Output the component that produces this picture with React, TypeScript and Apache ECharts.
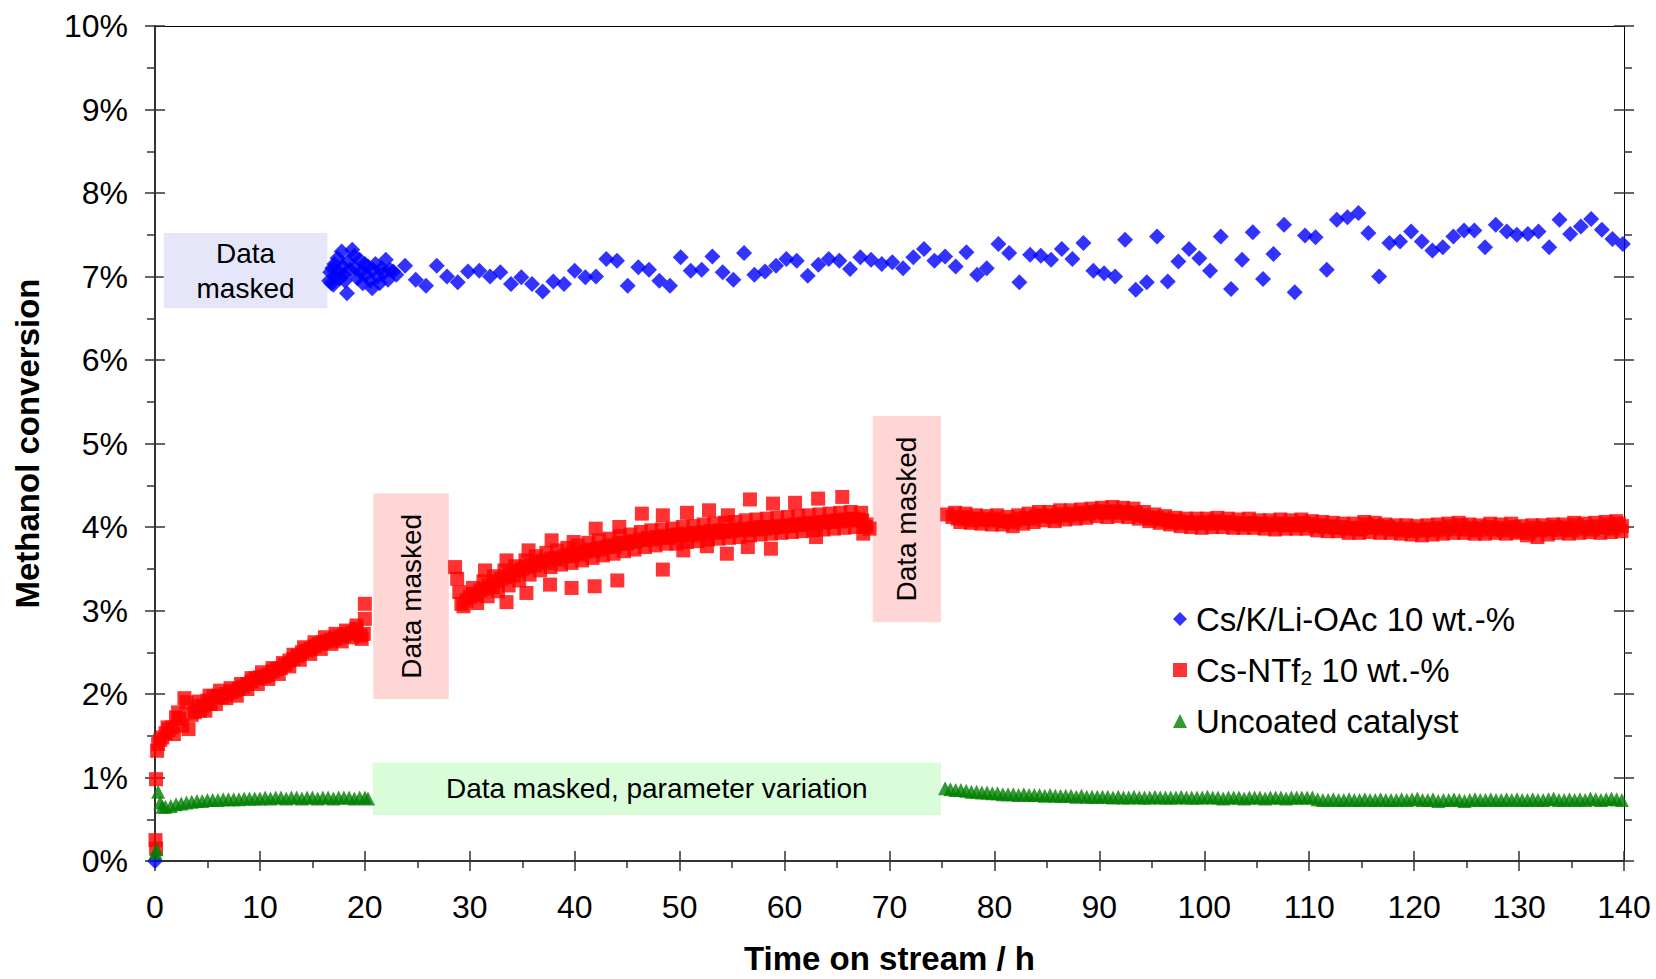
import React, { useEffect, useRef } from "react";
import * as echarts from "echarts";

const FONT = '"Liberation Sans", Arial, Helvetica, sans-serif';

const SERIES_NAMES = ["Cs/K/Li-OAc 10 wt.-%", "Cs-NTf2 10 wt.-%", "Uncoated catalyst"];
const X_TITLE = "Time on stream / h";
const Y_TITLE = "Methanol conversion";

// Cs/K/Li-OAc 10 wt.-% : [time h, conversion %]
const BLUE: [number, number][] = [
  [0, 0],
  [16.6, 6.95], [16.7, 7.05], [16.8, 6.92], [16.9, 7.1], [17.0, 6.9], [17.1, 7.15], [17.2, 7.0], [17.4, 7.22],
  [17.5, 7.05], [17.6, 6.98], [17.8, 7.3], [17.9, 7.12], [18.0, 7.02], [18.1, 6.95], [18.3, 6.8], [18.4, 7.18],
  [18.6, 7.08], [18.8, 7.32], [19.0, 7.25], [19.1, 7.1], [19.3, 6.98], [19.5, 7.2], [19.6, 7.05], [19.8, 6.92],
  [20.0, 7.15], [20.1, 7.02], [20.3, 7.12], [20.5, 6.95], [20.7, 6.86], [20.8, 7.08], [21.0, 7.15], [21.2, 7.0],
  [21.4, 6.92], [21.6, 7.1], [21.8, 7.04], [22.0, 7.2], [22.2, 6.96], [22.4, 7.08], [22.7, 7.06], [23.0, 7.02],
  [23.83, 7.13], [24.85, 6.96], [25.83, 6.89], [26.85, 7.13], [27.83, 7.0], [28.85, 6.93], [29.83, 7.06],
  [30.91, 7.07], [31.93, 7.0], [32.91, 7.05], [33.93, 6.91], [34.91, 6.99], [35.93, 6.91], [36.95, 6.82],
  [37.96, 6.94], [38.98, 6.91], [40.0, 7.07], [41.01, 6.99], [42.03, 7.0], [43.01, 7.21], [44.03, 7.19],
  [45.05, 6.89], [46.06, 7.11], [47.08, 7.08], [48.07, 6.95], [49.08, 6.89], [50.1, 7.23], [51.06, 7.07],
  [52.1, 7.08], [53.12, 7.24], [54.1, 7.05], [55.12, 6.96], [56.14, 7.28], [57.12, 7.02], [58.14, 7.06],
  [59.19, 7.13], [60.17, 7.21], [61.16, 7.19], [62.21, 7.01], [63.22, 7.14], [64.21, 7.21], [65.22, 7.19],
  [66.24, 7.09], [67.22, 7.23], [68.24, 7.2], [69.26, 7.15], [70.27, 7.17], [71.29, 7.1], [72.27, 7.23],
  [73.29, 7.33], [74.28, 7.19], [75.3, 7.24], [76.31, 7.12], [77.33, 7.29], [78.35, 7.02], [79.27, 7.1],
  [80.38, 7.39], [81.4, 7.28], [82.38, 6.93], [83.4, 7.26], [84.42, 7.25], [85.4, 7.2], [86.42, 7.33],
  [87.43, 7.21], [88.48, 7.4], [89.43, 7.07], [90.45, 7.04], [91.5, 7.0], [92.45, 7.44], [93.47, 6.84],
  [94.52, 6.93], [95.5, 7.48], [96.52, 6.94], [97.53, 7.18], [98.55, 7.33], [99.53, 7.22], [100.55, 7.07],
  [101.57, 7.48], [102.55, 6.85], [103.6, 7.2], [104.62, 7.53], [105.6, 6.97], [106.59, 7.27], [107.6, 7.62],
  [108.62, 6.81], [109.6, 7.49], [110.6, 7.47], [111.67, 7.08], [112.63, 7.68], [113.64, 7.71], [114.69, 7.76],
  [115.64, 7.52], [116.66, 7.0], [117.64, 7.4], [118.66, 7.42], [119.71, 7.54], [120.73, 7.42], [121.74, 7.31],
  [122.73, 7.35], [123.74, 7.48], [124.76, 7.55], [125.74, 7.55], [126.76, 7.35], [127.78, 7.62], [128.83, 7.54],
  [129.79, 7.5], [130.84, 7.51], [131.85, 7.54], [132.87, 7.35], [133.85, 7.68], [134.87, 7.51], [135.89, 7.6],
  [136.87, 7.69], [137.89, 7.56], [138.9, 7.45], [139.89, 7.39],
];

// Cs-NTf2 10 wt.-% : first period
const RED_EARLY: [number, number][] = [
  [0.05, 0.25], [0.1, 0.15], [0.1, 0.98], [0.2, 1.32], [0.3, 1.4], [0.5, 1.45], [0.7, 1.48], [1.0, 1.53],
  [1.3, 1.57], [1.6, 1.6], [2.0, 1.72], [2.3, 1.7], [2.6, 1.62], [2.8, 1.95], [3.0, 1.9], [3.2, 1.58],
  [3.5, 1.75], [3.8, 1.78], [4.0, 1.85], [4.3, 1.8], [4.6, 1.86], [5.0, 1.92], [5.3, 1.88], [5.6, 1.97],
  [6.0, 1.98], [6.4, 1.96], [6.8, 2.0], [7.2, 2.02], [7.6, 2.04], [8.0, 2.06], [8.4, 2.09], [8.8, 2.12],
  [9.2, 2.15], [9.6, 2.19], [10.0, 2.2], [10.4, 2.21], [10.8, 2.23], [11.2, 2.27], [11.6, 2.3], [12.0, 2.31],
  [12.4, 2.35], [12.8, 2.4], [13.2, 2.42], [13.6, 2.46], [14.0, 2.5], [14.4, 2.52], [14.8, 2.54], [15.2, 2.57],
  [15.6, 2.6], [16.0, 2.62], [16.4, 2.63], [16.8, 2.65], [17.2, 2.66], [17.6, 2.69], [18.0, 2.7], [18.4, 2.72],
  [18.8, 2.74], [19.2, 2.78], [19.6, 2.7], [19.9, 2.72], [20.0, 2.9], [20.0, 3.08],
  [1.2, 1.6], [1.8, 1.52], [2.2, 1.78], [4.2, 1.91], [4.8, 1.8], [5.2, 1.98], [5.8, 1.88], [6.2, 2.04],
  [6.8, 1.95], [7.2, 2.07], [7.8, 1.98], [8.2, 2.12], [8.8, 2.06], [9.2, 2.19], [9.8, 2.12], [10.2, 2.26],
  [10.8, 2.18], [11.2, 2.31], [11.8, 2.24], [12.2, 2.37], [12.8, 2.33], [13.2, 2.47], [13.8, 2.41], [14.2, 2.56],
  [14.8, 2.48], [15.2, 2.62], [15.8, 2.54], [16.2, 2.68], [16.8, 2.6], [17.2, 2.72], [17.8, 2.63], [18.2, 2.76],
  [18.8, 2.68], [19.2, 2.82], [19.7, 2.66],
];

// Cs-NTf2 10 wt.-% : second period
const RED_MID: [number, number][] = [
  [28.6, 3.52], [28.8, 3.38], [29.0, 3.22], [29.2, 3.08], [29.4, 3.05], [29.7, 3.12], [30.0, 3.16], [30.3, 3.2],
  [30.6, 3.18], [31.0, 3.24], [31.4, 3.26], [31.8, 3.3], [32.2, 3.28], [32.6, 3.35], [33.0, 3.38], [33.4, 3.4],
  [33.8, 3.44], [34.2, 3.42], [34.6, 3.48], [35.0, 3.5], [35.4, 3.52], [35.8, 3.55], [36.2, 3.54], [36.6, 3.58],
  [37.0, 3.6], [37.4, 3.57], [37.8, 3.62], [38.2, 3.63], [38.6, 3.61], [39.0, 3.65], [39.4, 3.67], [39.8, 3.65],
  [40.2, 3.69], [40.6, 3.67], [41.0, 3.71], [41.4, 3.73], [41.8, 3.71], [42.2, 3.75], [42.6, 3.73], [43.0, 3.76],
  [43.4, 3.78], [43.8, 3.76], [44.2, 3.8], [44.6, 3.81], [45.0, 3.8], [45.4, 3.83], [45.8, 3.82], [46.2, 3.85],
  [46.6, 3.84], [47.0, 3.87], [47.4, 3.85], [47.8, 3.88], [48.2, 3.87], [48.6, 3.89], [49.0, 3.87], [49.4, 3.9],
  [49.8, 3.91], [50.2, 3.89], [50.6, 3.92], [51.0, 3.9], [51.4, 3.93], [51.8, 3.91], [52.2, 3.94], [52.6, 3.92],
  [53.0, 3.95], [53.4, 3.93], [53.8, 3.96], [54.2, 3.94], [54.6, 3.96], [55.0, 3.95], [55.4, 3.97], [55.8, 3.96],
  [56.2, 3.98], [56.6, 3.96], [57.0, 3.99], [57.4, 3.97], [57.8, 4.0], [58.2, 3.98], [58.6, 4.0], [59.0, 3.99],
  [59.4, 4.01], [59.8, 4.0], [60.2, 4.02], [60.6, 4.01], [61.0, 4.03], [61.4, 4.02], [61.8, 4.04], [62.2, 4.03],
  [62.6, 4.05], [63.0, 4.04], [63.4, 4.06], [63.8, 4.05], [64.2, 4.07], [64.6, 4.06], [65.0, 4.08], [65.4, 4.07],
  [65.8, 4.09], [66.2, 4.08], [66.6, 4.1], [67.0, 4.09], [67.4, 4.08], [67.8, 4.03], [68.1, 3.98],
  [30.3, 3.27], [30.7, 3.09], [31.3, 3.35], [31.7, 3.17], [32.3, 3.41], [32.7, 3.23], [33.3, 3.48], [33.7, 3.3],
  [34.3, 3.53], [34.7, 3.36], [35.3, 3.6], [35.7, 3.43], [36.3, 3.65], [36.7, 3.48], [37.3, 3.69], [37.7, 3.52],
  [38.3, 3.72], [38.7, 3.55], [39.3, 3.75], [39.7, 3.57], [40.3, 3.78], [40.7, 3.6], [41.3, 3.81], [41.7, 3.63],
  [42.3, 3.84], [42.7, 3.66], [43.3, 3.86], [43.7, 3.68], [44.3, 3.89], [44.7, 3.71], [45.3, 3.91], [45.7, 3.73],
  [46.3, 3.94], [46.7, 3.76], [47.3, 3.96], [47.7, 3.78], [48.3, 3.97], [48.7, 3.8], [49.3, 3.98], [49.7, 3.8],
  [50.3, 4.0], [50.7, 3.82], [51.3, 4.01], [51.7, 3.83], [52.3, 4.03], [52.7, 3.85], [53.3, 4.04], [53.7, 3.86],
  [54.3, 4.05], [54.7, 3.87], [55.3, 4.06], [55.7, 3.88], [56.3, 4.08], [56.7, 3.9], [57.3, 4.09], [57.7, 3.91],
  [58.3, 4.1], [58.7, 3.92], [59.3, 4.11], [59.7, 3.93], [60.3, 4.12], [60.7, 3.94], [61.3, 4.13], [61.7, 3.95],
  [62.3, 4.14], [62.7, 3.96], [63.3, 4.15], [63.7, 3.97], [64.3, 4.16], [64.7, 3.98], [65.3, 4.17], [65.7, 3.99],
  [66.3, 4.18], [66.7, 4.0], [67.3, 4.17], [67.7, 4.0],
  [31.45, 3.48], [33.5, 3.6], [33.5, 3.1], [35.6, 3.72], [35.4, 3.21], [37.8, 3.84], [37.65, 3.31], [39.9, 3.82],
  [39.7, 3.27], [42.0, 3.98], [41.9, 3.29], [44.25, 4.0], [44.06, 3.36], [46.4, 4.16], [48.4, 4.14], [48.4, 3.49],
  [50.7, 4.17], [50.35, 3.72], [52.8, 4.2], [52.6, 3.77], [54.6, 4.14], [54.5, 3.68], [56.7, 4.33], [56.5, 3.76],
  [58.9, 4.28], [58.7, 3.74], [61.0, 4.29], [63.2, 4.34], [63.0, 3.88], [65.5, 4.36], [67.5, 3.92],
];

// Cs-NTf2 10 wt.-% : third period
const RED_LATE: [number, number][] = [
  [75.5, 4.15], [76, 4.12], [76.5, 4.1], [77, 4.12], [77.5, 4.1], [78, 4.08], [78.5, 4.1], [79, 4.09],
  [79.5, 4.08], [80, 4.1], [80.5, 4.08], [81, 4.07], [81.5, 4.06], [82, 4.08], [82.5, 4.1], [83, 4.11],
  [83.5, 4.1], [84, 4.13], [84.5, 4.14], [85, 4.13], [85.5, 4.12], [86, 4.14], [86.5, 4.15], [87, 4.14],
  [87.5, 4.16], [88, 4.15], [88.5, 4.17], [89, 4.16], [89.5, 4.18], [90, 4.19], [90.5, 4.17], [91, 4.18],
  [91.5, 4.19], [92, 4.17], [92.5, 4.18], [93, 4.16], [93.5, 4.17], [94, 4.14], [94.5, 4.12], [95, 4.1],
  [95.5, 4.11], [96, 4.09], [96.5, 4.08], [97, 4.06], [97.5, 4.07], [98, 4.05], [98.5, 4.06], [99, 4.04],
  [99.5, 4.05], [100, 4.06], [100.5, 4.04], [101, 4.07], [101.5, 4.05], [102, 4.06], [102.5, 4.04], [103, 4.05],
  [103.5, 4.03], [104, 4.04], [104.5, 4.05], [105, 4.03], [105.5, 4.04], [106, 4.02], [106.5, 4.03], [107, 4.04],
  [107.5, 4.02], [108, 4.03], [108.5, 4.04], [109, 4.02], [109.5, 4.05], [110, 4.03], [110.5, 4.01], [111, 4.02],
  [111.5, 4.0], [112, 4.01], [112.5, 3.99], [113, 4.0], [113.5, 3.98], [114, 3.99], [114.5, 3.97], [115, 3.98],
  [115.5, 4.03], [116, 3.99], [116.5, 4.01], [117, 3.98], [117.5, 4.0], [118, 3.97], [118.5, 3.98], [119, 3.96],
  [119.5, 3.98], [120, 3.95], [120.5, 3.97], [121, 3.96], [121.5, 3.98], [122, 3.96], [122.5, 3.99], [123, 3.97],
  [123.5, 4.01], [124, 3.98], [124.5, 4.02], [125, 3.97], [125.5, 3.99], [126, 3.96], [126.5, 3.98], [127, 4.0],
  [127.5, 3.97], [128, 3.99], [128.5, 3.96], [129, 3.98], [129.5, 4.0], [130, 3.95], [130.5, 3.97], [131, 3.93],
  [131.5, 3.99], [132, 3.96], [132.5, 3.98], [133, 3.97], [133.5, 4.0], [134, 3.97], [134.5, 3.99], [135, 3.96],
  [135.5, 4.02], [136, 3.98], [136.5, 4.0], [137, 3.97], [137.5, 4.01], [138, 3.99], [138.5, 4.03], [139, 3.98],
  [139.5, 4.04], [139.8, 4.01],
  [76.25, 4.17], [76.75, 4.06], [77.25, 4.16], [77.75, 4.05], [78.25, 4.14], [78.75, 4.04], [79.25, 4.13], [79.75, 4.03],
  [80.25, 4.14], [80.75, 4.03], [81.25, 4.12], [81.75, 4.01], [82.25, 4.14], [82.75, 4.04], [83.25, 4.16], [83.75, 4.06],
  [84.25, 4.18], [84.75, 4.08], [85.25, 4.18], [85.75, 4.07], [86.25, 4.2], [86.75, 4.09], [87.25, 4.2], [87.75, 4.1],
  [88.25, 4.21], [88.75, 4.11], [89.25, 4.22], [89.75, 4.13], [90.25, 4.23], [90.75, 4.12], [91.25, 4.24], [91.75, 4.13],
  [92.25, 4.23], [92.75, 4.12], [93.25, 4.22], [93.75, 4.1], [94.25, 4.18], [94.75, 4.07], [95.25, 4.15], [95.75, 4.05],
  [96.25, 4.13], [96.75, 4.03], [97.25, 4.11], [97.75, 4.01], [98.25, 4.1], [98.75, 4.0], [99.25, 4.1], [99.75, 3.99],
  [100.25, 4.1], [100.75, 4.0], [101.25, 4.11], [101.75, 4.0], [102.25, 4.1], [102.75, 3.99], [103.25, 4.09], [103.75, 3.99],
  [104.25, 4.1], [104.75, 3.99], [105.25, 4.08], [105.75, 3.98], [106.25, 4.08], [106.75, 3.97], [107.25, 4.09], [107.75, 3.98],
  [108.25, 4.08], [108.75, 3.98], [109.25, 4.09], [109.75, 3.98], [110.25, 4.07], [110.75, 3.96], [111.25, 4.06], [111.75, 3.95],
  [112.25, 4.05], [112.75, 3.95], [113.25, 4.04], [113.75, 3.93], [114.25, 4.04], [114.75, 3.93], [115.25, 4.06], [115.75, 3.94],
  [116.25, 4.05], [116.75, 3.93], [117.25, 4.03], [117.75, 3.93], [118.25, 4.02], [118.75, 3.92], [119.25, 4.02], [119.75, 3.91],
  [120.25, 4.01], [120.75, 3.9], [121.25, 4.02], [121.75, 3.91], [122.25, 4.03], [122.75, 3.92], [123.25, 4.04], [123.75, 3.93],
  [124.25, 4.05], [124.75, 3.93], [125.25, 4.03], [125.75, 3.92], [126.25, 4.02], [126.75, 3.92], [127.25, 4.04], [127.75, 3.93],
  [128.25, 4.03], [128.75, 3.92], [129.25, 4.04], [129.75, 3.93], [130.25, 4.01], [130.75, 3.9], [131.25, 4.02], [131.75, 3.88],
  [132.25, 4.02], [132.75, 3.91], [133.25, 4.03], [133.75, 3.93], [134.25, 4.03], [134.75, 3.92], [135.25, 4.05], [135.75, 3.93],
  [136.25, 4.04], [136.75, 3.94], [137.25, 4.05], [137.75, 3.93], [138.25, 4.06], [138.75, 3.94], [139.25, 4.07], [139.75, 3.95],
];

// Uncoated catalyst
const GREEN_EARLY: [number, number][] = [
  [0.05, 0.1], [0.15, 0.14], [0.3, 0.83], [0.5, 0.7], [0.7, 0.65], [1.0, 0.65], [1.5, 0.66], [2.0, 0.68],
  [2.5, 0.69], [3.0, 0.7], [3.5, 0.71], [4.0, 0.72], [4.5, 0.72], [5.0, 0.73], [5.5, 0.73], [6.0, 0.73],
  [6.5, 0.74], [7.0, 0.74], [7.5, 0.74], [8.0, 0.74], [8.5, 0.75], [9.0, 0.75], [9.5, 0.75], [10.0, 0.75],
  [10.5, 0.76], [11.0, 0.75], [11.5, 0.76], [12.0, 0.76], [12.5, 0.75], [13.0, 0.76], [13.5, 0.76], [14.0, 0.75],
  [14.5, 0.76], [15.0, 0.76], [15.5, 0.75], [16.0, 0.76], [16.5, 0.76], [17.0, 0.75], [17.5, 0.76], [18.0, 0.76],
  [18.5, 0.76], [19.0, 0.75], [19.5, 0.76], [20.0, 0.76], [20.3, 0.75],
];

const GREEN_LATE: [number, number][] = [
  [75.3, 0.87], [75.8, 0.86], [76.3, 0.85], [76.8, 0.85], [77.3, 0.84], [77.8, 0.83], [78.3, 0.83], [78.8, 0.82],
  [79.3, 0.82], [79.8, 0.81], [80.3, 0.81], [80.8, 0.8], [81.3, 0.8], [81.8, 0.8], [82.3, 0.79], [82.8, 0.8],
  [83.3, 0.79], [83.8, 0.79], [84.3, 0.79], [84.8, 0.78], [85.3, 0.79], [85.8, 0.78], [86.3, 0.78], [86.8, 0.78],
  [87.3, 0.78], [87.8, 0.77], [88.3, 0.78], [88.8, 0.77], [89.3, 0.77], [89.8, 0.77], [90.3, 0.77], [90.8, 0.77],
  [91.3, 0.76], [91.8, 0.77], [92.3, 0.76], [92.8, 0.76], [93.3, 0.77], [93.8, 0.76], [94.3, 0.76], [94.8, 0.76],
  [95.3, 0.77], [95.8, 0.76], [96.3, 0.76], [96.8, 0.76], [97.3, 0.76], [97.8, 0.77], [98.3, 0.76], [98.8, 0.76],
  [99.3, 0.76], [99.8, 0.76], [100.3, 0.77], [100.8, 0.76], [101.3, 0.76], [101.8, 0.75], [102.3, 0.76], [102.8, 0.76],
  [103.3, 0.76], [103.8, 0.75], [104.3, 0.76], [104.8, 0.76], [105.3, 0.76], [105.8, 0.75], [106.3, 0.76], [106.8, 0.76],
  [107.3, 0.76], [107.8, 0.75], [108.3, 0.76], [108.8, 0.76], [109.3, 0.76], [109.8, 0.76], [110.3, 0.76], [110.8, 0.74],
  [111.3, 0.73], [111.8, 0.73], [112.3, 0.74], [112.8, 0.73], [113.3, 0.73], [113.8, 0.74], [114.3, 0.73], [114.8, 0.73],
  [115.3, 0.74], [115.8, 0.73], [116.3, 0.73], [116.8, 0.74], [117.3, 0.73], [117.8, 0.73], [118.3, 0.73], [118.8, 0.74],
  [119.3, 0.73], [119.8, 0.74], [120.3, 0.75], [120.8, 0.73], [121.3, 0.73], [121.8, 0.74], [122.3, 0.72], [122.8, 0.73],
  [123.3, 0.73], [123.8, 0.74], [124.3, 0.73], [124.8, 0.72], [125.3, 0.73], [125.8, 0.74], [126.3, 0.73], [126.8, 0.73],
  [127.3, 0.74], [127.8, 0.73], [128.3, 0.73], [128.8, 0.74], [129.3, 0.73], [129.8, 0.74], [130.3, 0.73], [130.8, 0.73],
  [131.3, 0.74], [131.8, 0.73], [132.3, 0.73], [132.8, 0.74], [133.3, 0.75], [133.8, 0.73], [134.3, 0.73], [134.8, 0.74],
  [135.3, 0.73], [135.8, 0.74], [136.3, 0.73], [136.8, 0.75], [137.3, 0.74], [137.8, 0.73], [138.3, 0.74], [138.8, 0.75],
  [139.3, 0.74], [139.8, 0.73],
];

// Masked ranges: label, [t start, t end], [conv top, conv bottom]
const MASK_LABELS = ["Data\nmasked", "Data masked", "Data masked", "Data masked, parameter variation"];
const MASK_T: [number, number][] = [[0.83, 16.43], [20.8, 28.0], [68.4, 74.9], [20.75, 74.9]];
const MASK_Y: [number, number][] = [[7.52, 6.62], [4.4, 1.94], [5.33, 2.86], [1.18, 0.55]];
const MASK_COLORS = ["#E6E6FA", "#FFD6D6", "#FFD6D6", "#D9FCD9"];
const MASK_ROTATE = [0, 90, 90, 0];

const X_MIN = 0, X_MAX = 140, X_STEP = 10;
const Y_MIN = 0, Y_MAX = 10, Y_STEP = 1;

export default function App() {
  const ref = useRef<HTMLDivElement>(null);

  useEffect(() => {
    if (!ref.current) return;
    const chart = echarts.init(ref.current, null, { renderer: "svg" });

    const tickLine = { color: "#333", width: 1.5 };
    const xBase = { type: "value", min: X_MIN, max: X_MAX, interval: X_STEP, splitLine: { show: false } };
    const yBase = { type: "value", min: Y_MIN, max: Y_MAX, interval: Y_STEP, splitLine: { show: false } };
    const titleStyle = { fontFamily: FONT, fontSize: 33, fontWeight: "bold", color: "#000" };

    const markData = MASK_LABELS.map((label, i) => [
      {
        name: label,
        xAxis: MASK_T[i][0],
        yAxis: MASK_Y[i][0],
        itemStyle: { color: MASK_COLORS[i] },
        label: {
          show: true,
          position: "inside",
          rotate: MASK_ROTATE[i],
          color: "#000",
          fontFamily: FONT,
          fontSize: 28,
          lineHeight: 35,
          align: "center",
          verticalAlign: "middle",
          formatter: "{b}",
        },
      },
      { xAxis: MASK_T[i][1], yAxis: MASK_Y[i][1] },
    ]);

    const option: any = {
      animation: false,
      backgroundColor: "#fff",
      grid: { left: 155, right: 32, top: 26, bottom: 118, containLabel: false, outerBoundsMode: "none" },
      xAxis: [
        {
          ...xBase,
          position: "bottom",
          axisLine: { show: true, onZero: false, lineStyle: { color: "#333", width: 2 } },
          axisTick: { show: true, inside: false, length: 10, lineStyle: tickLine },
          minorTick: { show: true, splitNumber: 2, length: 7, lineStyle: tickLine },
          axisLabel: { color: "#000", fontFamily: FONT, fontSize: 32, margin: 30 },
          name: X_TITLE,
          nameLocation: "middle",
          nameGap: 81,
          nameTextStyle: { ...titleStyle, lineHeight: 33 },
        },
        {
          ...xBase,
          position: "bottom",
          axisLine: { show: false, onZero: false },
          axisTick: { show: true, inside: true, length: 10, lineStyle: tickLine },
          axisLabel: { show: false },
        },
        {
          ...xBase,
          position: "top",
          axisLine: { show: true, onZero: false, lineStyle: { color: "#000", width: 1 } },
          axisTick: { show: false },
          axisLabel: { show: false },
        },
      ],
      yAxis: [
        {
          ...yBase,
          position: "left",
          axisLine: { show: true, onZero: false, lineStyle: { color: "#333", width: 2 } },
          axisTick: { show: true, inside: false, length: 10, lineStyle: tickLine },
          minorTick: { show: true, splitNumber: 2, length: 8, lineStyle: tickLine },
          axisLabel: { color: "#000", fontFamily: FONT, fontSize: 32, margin: 27, formatter: (v: number) => `${v}%` },
          name: Y_TITLE,
          nameLocation: "middle",
          nameGap: 111,
          nameTextStyle: titleStyle,
        },
        {
          ...yBase,
          position: "left",
          axisLine: { show: false, onZero: false },
          axisTick: { show: true, inside: true, length: 10, lineStyle: tickLine },
          axisLabel: { show: false },
        },
        {
          ...yBase,
          position: "right",
          axisLine: { show: true, onZero: false, lineStyle: { color: "#000", width: 1 } },
          axisTick: { show: true, inside: false, length: 10, lineStyle: tickLine },
          minorTick: { show: true, splitNumber: 2, length: 8, lineStyle: tickLine },
          axisLabel: { show: false },
        },
        {
          ...yBase,
          position: "right",
          axisLine: { show: false, onZero: false },
          axisTick: { show: true, inside: true, length: 10, lineStyle: tickLine },
          axisLabel: { show: false },
        },
      ],
      legend: {
        orient: "vertical",
        left: 1168,
        top: 596,
        itemWidth: 14,
        itemHeight: 14,
        itemGap: 15,
        data: SERIES_NAMES,
        formatter: (name: string) => (name === SERIES_NAMES[1] ? "Cs-NTf{sub|2} 10 wt.-%" : name),
        textStyle: {
          color: "#000",
          fontFamily: FONT,
          fontSize: 33,
          lineHeight: 36,
          padding: [0, 0, 0, 4],
          rich: { sub: { fontFamily: FONT, fontSize: 21, color: "#000", verticalAlign: "bottom", lineHeight: 30 } },
        },
      },
      series: [
        {
          name: SERIES_NAMES[0],
          type: "scatter",
          symbol: "diamond",
          symbolSize: 16,
          itemStyle: { color: "#0000FF" },
          data: BLUE,
          markArea: { silent: true, data: markData },
        },
        {
          name: SERIES_NAMES[1],
          type: "scatter",
          symbol: "rect",
          symbolSize: 14,
          itemStyle: { color: "#FF0000" },
          data: [...RED_EARLY, ...RED_MID, ...RED_LATE],
        },
        {
          name: SERIES_NAMES[2],
          type: "scatter",
          symbol: "triangle",
          symbolSize: 14,
          itemStyle: { color: "#008000" },
          data: [...GREEN_EARLY, ...GREEN_LATE],
        },
      ],
    };

    chart.setOption(option);
    return () => chart.dispose();
  }, []);

  return (
    <div
      ref={ref}
      style={{ position: "fixed", left: 0, top: 0, width: 1656, height: 979, background: "#fff" }}
    />
  );
}
